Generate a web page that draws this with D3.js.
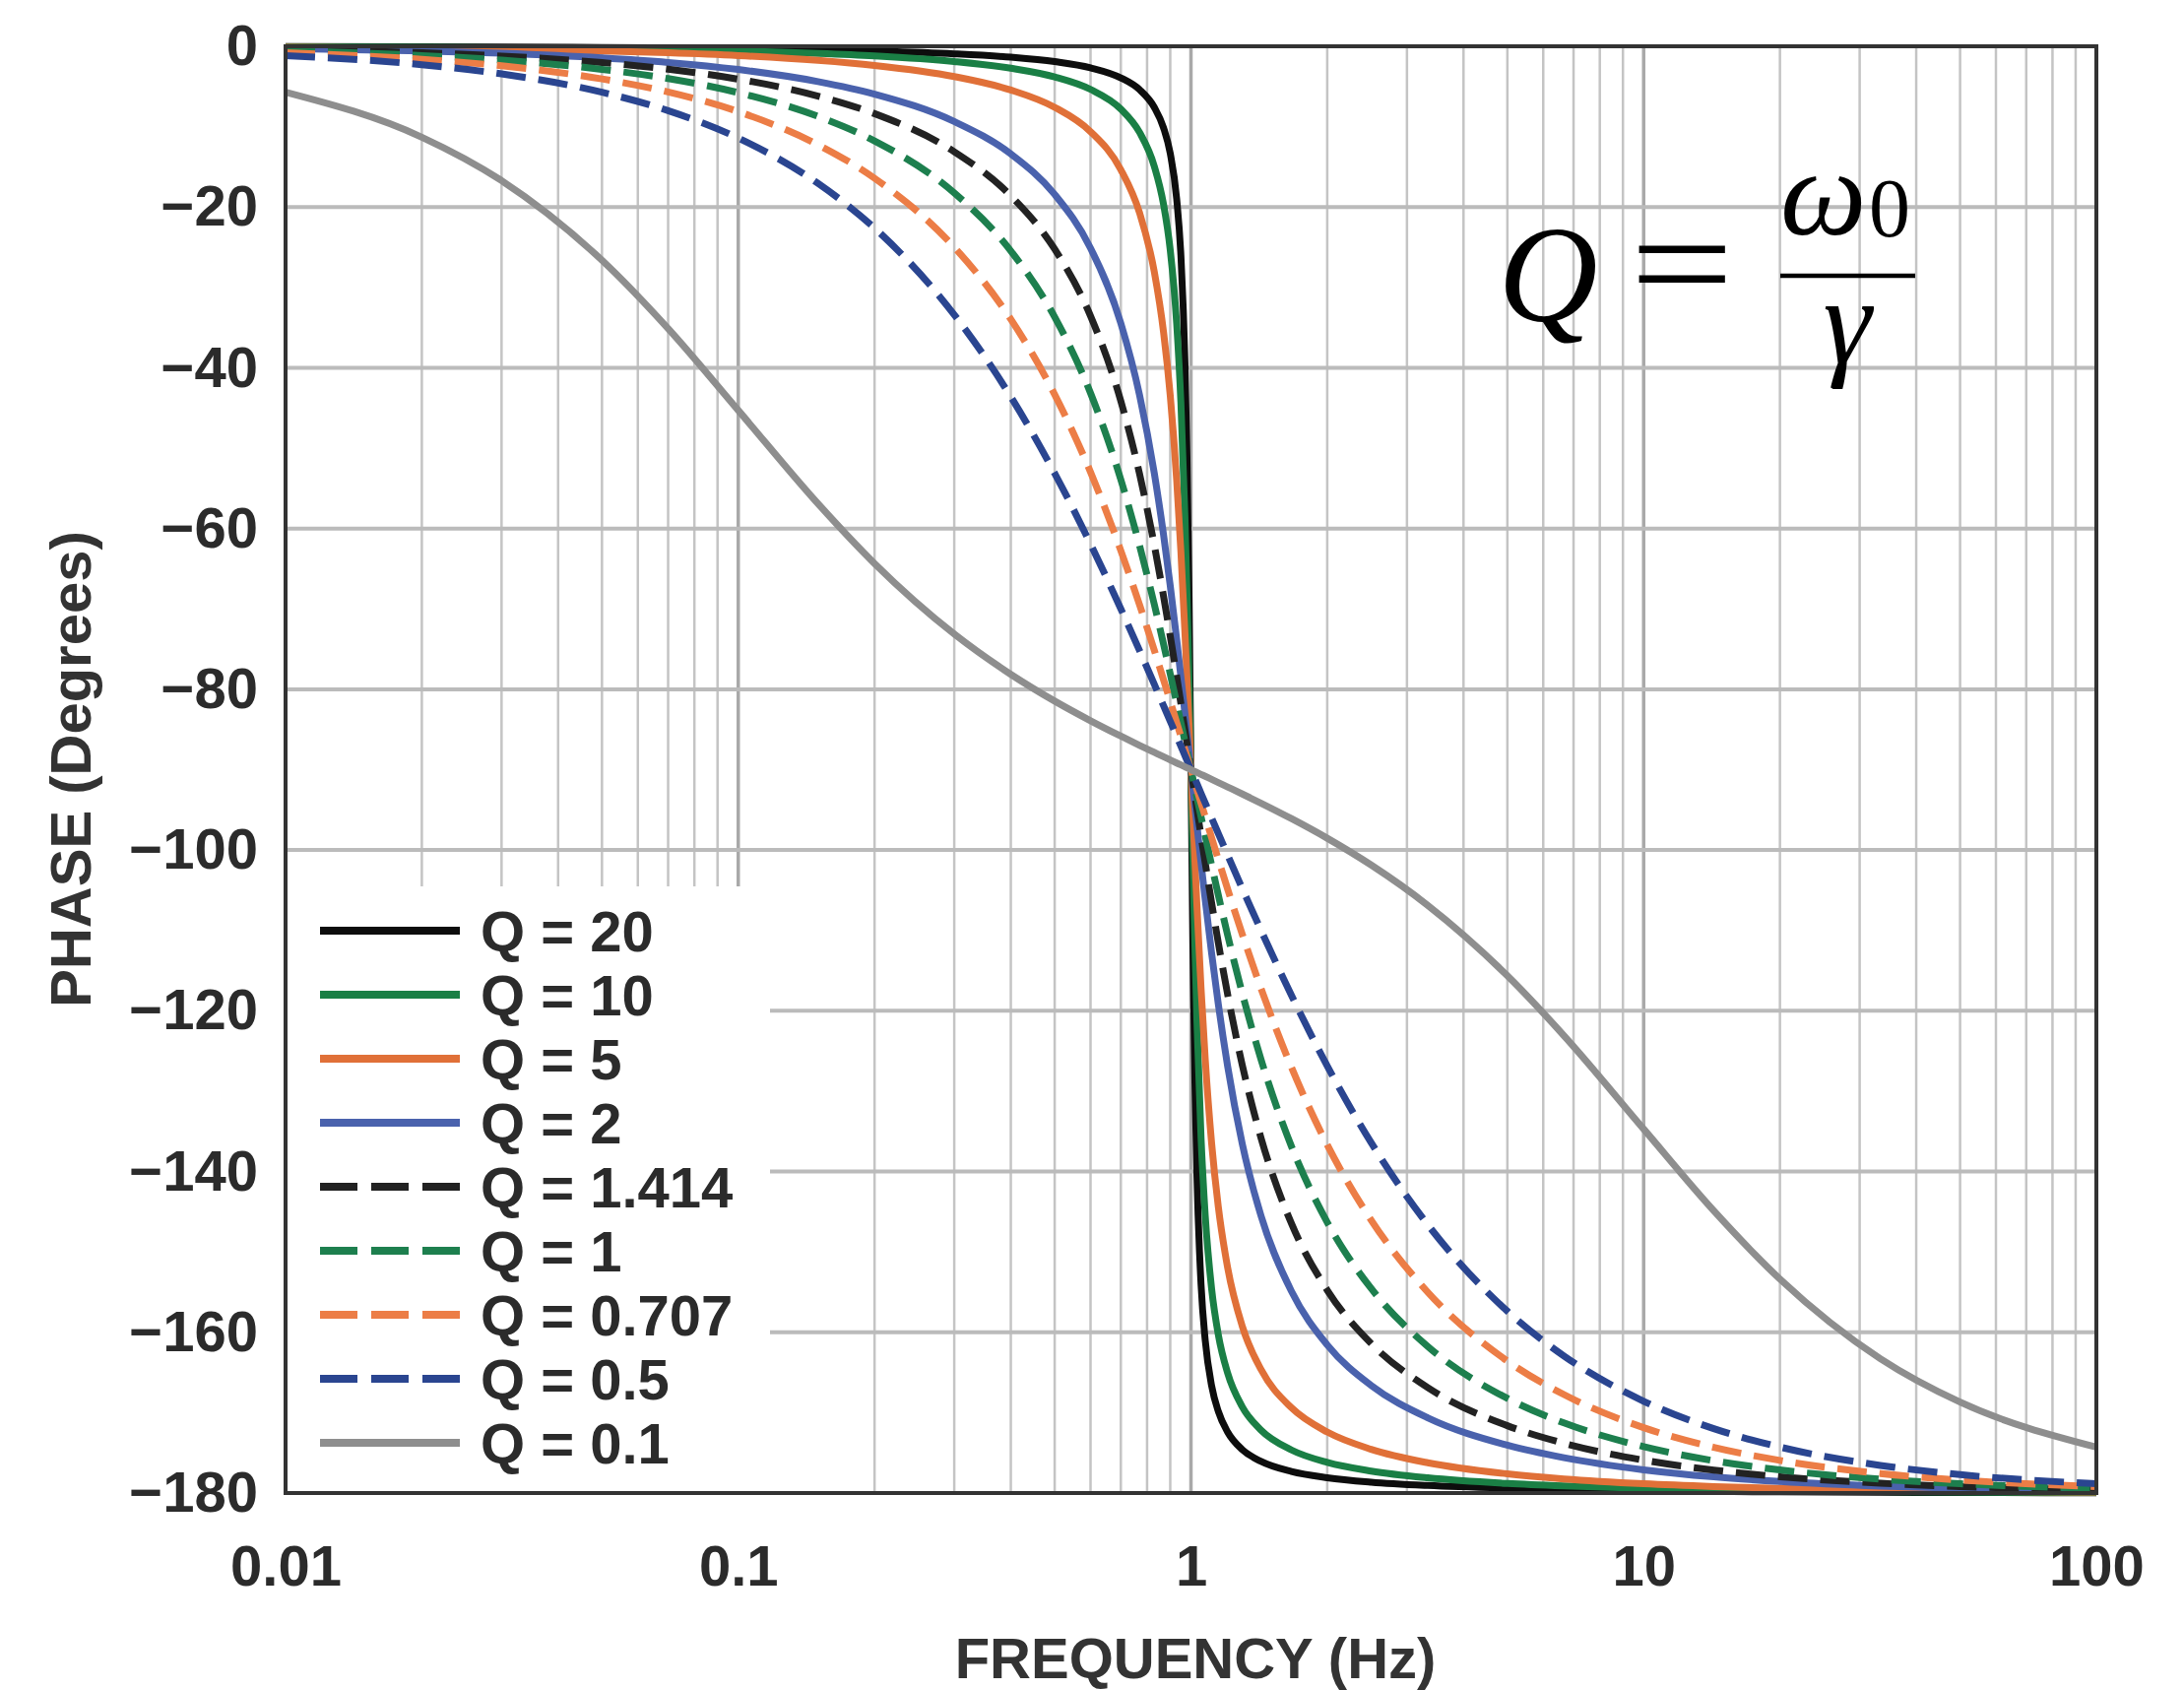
<!DOCTYPE html>
<html lang="en">
<head>
<meta charset="UTF-8">
<title>Phase vs Frequency for different Q</title>
<script src="https://d3js.org/d3.v7.min.js"></script>
<style>
  body { margin: 0; background: #fff; }
  svg { display: block; }
  .axis text { font-family: "Liberation Sans", Arial, sans-serif; font-weight: bold; font-size: 58px; fill: #2b2b2b; }
  .title { font-family: "Liberation Sans", Arial, sans-serif; font-weight: bold; font-size: 58px; fill: #333; }
  .legend text { font-family: "Liberation Sans", Arial, sans-serif; font-weight: bold; font-size: 58px; fill: #2b2b2b; }
  .formula text { font-family: "Liberation Serif", "DejaVu Serif", serif; fill: #000; }
</style>
</head>
<body>
<div id="chart"></div>
<script>
const freqs = [0.01, 0.02, 0.03, 0.05, 0.07, 0.1, 0.15, 0.2, 0.3, 0.4, 0.5, 0.6, 0.7, 0.77, 0.83, 0.87, 0.9, 0.93, 0.95, 0.97, 0.98, 0.99,
  1, 1.0101, 1.0204, 1.0309, 1.0526, 1.0753, 1.1111, 1.1494, 1.2048, 1.2987, 1.4286, 1.6667, 2, 2.5, 3.3333, 5, 6.6667, 10, 14.286, 20, 33.333, 50, 100];

// phase in degrees, one array per Q
const phaseQ20 = [-0.03, -0.06, -0.09, -0.14, -0.2, -0.29, -0.44, -0.6, -0.94, -1.36, -1.91, -2.68, -3.93, -5.4, -7.6, -10.15, -13.32, -18.99, -25.97, -39.37, -51.05, -68.1,
  -90, -111.9, -128.95, -140.63, -154.03, -161.01, -166.68, -169.85, -172.4, -174.6, -176.07, -177.32, -178.09, -178.64, -179.06, -179.4, -179.56, -179.71, -179.8, -179.86, -179.91, -179.94, -179.97];
const phaseQ10 = [-0.06, -0.11, -0.17, -0.29, -0.4, -0.58, -0.88, -1.19, -1.89, -2.73, -3.81, -5.36, -7.81, -10.71, -14.94, -19.69, -25.35, -34.54, -44.26, -58.64, -67.99, -78.63,
  -90, -101.37, -112.01, -121.36, -135.74, -145.46, -154.65, -160.31, -165.06, -169.29, -172.19, -174.64, -176.19, -177.27, -178.11, -178.81, -179.12, -179.42, -179.6, -179.71, -179.83, -179.89, -179.94];
const phaseQ5 = [-0.11, -0.23, -0.34, -0.57, -0.81, -1.16, -1.76, -2.39, -3.77, -5.44, -7.59, -10.62, -15.35, -20.72, -28.08, -35.59, -43.45, -54, -62.84, -73.06, -78.58, -84.26,
  -90, -95.74, -101.42, -106.94, -117.16, -126, -136.55, -144.41, -151.92, -159.28, -164.65, -169.38, -172.41, -174.56, -176.23, -177.61, -178.24, -178.84, -179.19, -179.43, -179.66, -179.77, -179.89];
const phaseQ2 = [-0.29, -0.57, -0.86, -1.44, -2.01, -2.89, -4.39, -5.95, -9.36, -13.39, -18.43, -25.11, -34.46, -43.4, -53.14, -60.8, -67.11, -73.8, -78.4, -83.05, -85.38, -87.7,
  -90, -92.3, -94.62, -96.95, -101.6, -106.2, -112.89, -119.2, -126.86, -136.6, -145.54, -154.89, -161.57, -166.61, -170.64, -174.05, -175.61, -177.11, -177.99, -178.56, -179.14, -179.43, -179.71];
const phaseQ1414 = [-0.41, -0.81, -1.22, -2.03, -2.85, -4.09, -6.19, -8.38, -13.12, -18.61, -25.24, -33.55, -44.15, -53.22, -62.08, -68.44, -73.38, -78.39, -81.74, -85.08, -86.73, -88.37,
  -90, -91.63, -93.27, -94.92, -98.26, -101.61, -106.62, -111.56, -117.92, -126.78, -135.85, -146.45, -154.76, -161.39, -166.88, -171.62, -173.81, -175.91, -177.15, -177.97, -178.78, -179.19, -179.59];
const phaseQ1 = [-0.57, -1.15, -1.72, -2.87, -4.02, -5.77, -8.72, -11.77, -18.25, -25.46, -33.69, -43.15, -53.92, -62.14, -69.45, -74.39, -78.08, -81.73, -84.14, -86.51, -87.69, -88.85,
  -90, -91.15, -92.31, -93.49, -95.86, -98.27, -101.92, -105.61, -110.55, -117.86, -126.08, -136.85, -146.31, -154.54, -161.75, -168.23, -171.28, -174.23, -175.98, -177.13, -178.28, -178.85, -179.43];
const phaseQ0707 = [-0.81, -1.62, -2.43, -4.06, -5.68, -8.13, -12.25, -16.42, -25, -33.96, -43.32, -52.98, -62.75, -69.5, -75.16, -78.83, -81.51, -84.14, -85.85, -87.53, -88.36, -89.19,
  -90, -90.81, -91.64, -92.47, -94.15, -95.86, -98.49, -101.17, -104.84, -110.5, -117.25, -127.02, -136.68, -146.04, -155, -163.58, -167.75, -171.87, -174.32, -175.94, -177.57, -178.38, -179.19];
const phaseQ05 = [-1.15, -2.29, -3.44, -5.72, -8.01, -11.42, -17.06, -22.62, -33.4, -43.6, -53.13, -61.93, -70, -75.19, -79.39, -82.05, -83.97, -85.85, -87.06, -88.26, -88.84, -89.42,
  -90, -90.58, -91.16, -91.74, -92.94, -94.15, -96.03, -97.95, -100.61, -104.81, -110, -118.07, -126.87, -136.4, -146.6, -157.38, -162.94, -168.58, -171.99, -174.28, -176.56, -177.71, -178.85];
const phaseQ01 = [-5.71, -11.31, -16.71, -26.62, -35.12, -45.29, -56.91, -64.36, -73.13, -78.14, -81.47, -83.91, -85.83, -86.97, -87.85, -88.4, -88.79, -89.17, -89.41, -89.65, -89.77, -89.88,
  -90, -90.12, -90.23, -90.35, -90.59, -90.83, -91.21, -91.6, -92.15, -93.03, -94.17, -96.09, -98.53, -101.86, -106.87, -115.64, -123.09, -134.71, -144.88, -153.38, -163.29, -168.69, -174.29];

const qLabels = ["Q = 20", "Q = 10", "Q = 5", "Q = 2", "Q = 1.414", "Q = 1", "Q = 0.707", "Q = 0.5", "Q = 0.1"];
const xTickValues = [0.01, 0.1, 1, 10, 100];
const xTickLabels = ["0.01", "0.1", "1", "10", "100"];
const yTickValues = [0, -20, -40, -60, -80, -100, -120, -140, -160, -180];

// line styles, same order as qLabels
const styles = [
  { color: "#0d0d0d", dash: null },
  { color: "#1a7f45", dash: null },
  { color: "#e07038", dash: null },
  { color: "#4a62ad", dash: null },
  { color: "#222222", dash: "30,13" },
  { color: "#1d7f4e", dash: "30,13" },
  { color: "#ec7d46", dash: "30,13" },
  { color: "#2a4590", dash: "30,13" },
  { color: "#8e8e8e", dash: null }
];

const allPhases = [phaseQ20, phaseQ10, phaseQ5, phaseQ2, phaseQ1414, phaseQ1, phaseQ0707, phaseQ05, phaseQ01];
const series = qLabels.map((label, i) => ({
  label,
  style: styles[i],
  points: freqs.map((f, j) => ({ f, p: allPhases[i][j] }))
}));

const W = 2218, H = 1716;
const plot = { left: 290, right: 2129, top: 47, bottom: 1516 };

const svg = d3.select("#chart").append("svg")
  .attr("width", W)
  .attr("height", H);

const x = d3.scaleLog().domain([0.01, 100]).range([plot.left, plot.right]);
const y = d3.scaleLinear().domain([-180, 0]).range([plot.bottom, plot.top]);

// grid
const grid = svg.append("g");
grid.selectAll("line.v")
  .data(x.ticks())
  .join("line")
  .attr("class", "v")
  .attr("x1", d => x(d)).attr("x2", d => x(d))
  .attr("y1", plot.top).attr("y2", plot.bottom)
  .attr("stroke", d => xTickValues.includes(d) ? "#a9a9a9" : "#c4c4c4")
  .attr("stroke-width", d => xTickValues.includes(d) ? 3.5 : 2.5);

grid.selectAll("line.h")
  .data(yTickValues)
  .join("line")
  .attr("class", "h")
  .attr("x1", plot.left).attr("x2", plot.right)
  .attr("y1", d => y(d)).attr("y2", d => y(d))
  .attr("stroke", "#bbbbbb")
  .attr("stroke-width", 4);

// white legend panel hides the grid behind it
const legendBox = { left: plot.left, right: 782, top: 900 };
svg.append("rect")
  .attr("x", legendBox.left)
  .attr("y", legendBox.top)
  .attr("width", legendBox.right - legendBox.left)
  .attr("height", plot.bottom - legendBox.top)
  .attr("fill", "#fff");

// curves
const line = d3.line()
  .x(d => x(d.f))
  .y(d => y(d.p))
  .curve(d3.curveMonotoneX);

svg.append("g")
  .selectAll("path")
  .data(series)
  .join("path")
  .attr("d", d => line(d.points))
  .attr("fill", "none")
  .attr("stroke", d => d.style.color)
  .attr("stroke-width", 7)
  .attr("stroke-dasharray", d => d.style.dash)
  .attr("stroke-linejoin", "round");

// frame
svg.append("rect")
  .attr("x", plot.left)
  .attr("y", plot.top)
  .attr("width", plot.right - plot.left)
  .attr("height", plot.bottom - plot.top)
  .attr("fill", "none")
  .attr("stroke", "#333")
  .attr("stroke-width", 4);

// axes
const yAxis = svg.append("g")
  .attr("class", "axis")
  .attr("transform", `translate(${plot.left},0)`)
  .call(d3.axisLeft(y).tickValues(yTickValues).tickSize(0).tickPadding(28)
    .tickFormat(d => d === 0 ? "0" : "\u2212" + Math.abs(d)));
yAxis.select(".domain").remove();

const xAxis = svg.append("g")
  .attr("class", "axis")
  .attr("transform", `translate(0,${plot.bottom})`)
  .call(d3.axisBottom(x).tickValues(xTickValues).tickSize(0).tickPadding(53)
    .tickFormat((d, i) => xTickLabels[i]));
xAxis.select(".domain").remove();

svg.append("text")
  .attr("class", "title")
  .attr("x", 1214)
  .attr("y", 1704)
  .attr("text-anchor", "middle")
  .text("FREQUENCY (Hz)");

svg.append("text")
  .attr("class", "title")
  .attr("transform", "translate(92,781) rotate(-90)")
  .attr("text-anchor", "middle")
  .text("PHASE (Degrees)");

// legend
const legend = svg.append("g").attr("class", "legend");
const rows = legend.selectAll("g")
  .data(series)
  .join("g")
  .attr("transform", (d, i) => `translate(0,${945 + i * 65})`);
rows.append("line")
  .attr("x1", 325).attr("x2", 467)
  .attr("stroke", d => d.style.color)
  .attr("stroke-width", 8)
  .attr("stroke-dasharray", d => d.style.dash ? "38,14" : null);
rows.append("text")
  .attr("x", 488)
  .attr("dy", "0.36em")
  .text(d => d.label);

// Q = omega0 / gamma
const formula = svg.append("g").attr("class", "formula");
formula.append("text")
  .attr("x", 1572).attr("y", 326)
  .attr("text-anchor", "middle")
  .attr("font-style", "italic")
  .attr("font-size", 140)
  .text("Q");
formula.append("text")
  .attr("transform", "translate(1708,318) scale(1.25,1)")
  .attr("text-anchor", "middle")
  .attr("font-size", 150)
  .text("=");
formula.append("line")
  .attr("x1", 1808).attr("x2", 1945)
  .attr("y1", 280).attr("y2", 280)
  .attr("stroke", "#000")
  .attr("stroke-width", 4.5);
formula.append("text")
  .attr("x", 1808).attr("y", 238)
  .attr("font-style", "italic")
  .attr("font-size", 124)
  .text("\u03c9");
formula.append("text")
  .attr("x", 1898).attr("y", 240)
  .attr("font-size", 84)
  .text("0");
formula.append("text")
  .attr("x", 1876).attr("y", 368)
  .attr("text-anchor", "middle")
  .attr("font-style", "italic")
  .attr("font-size", 124)
  .text("\u03b3");
</script>
</body>
</html>
